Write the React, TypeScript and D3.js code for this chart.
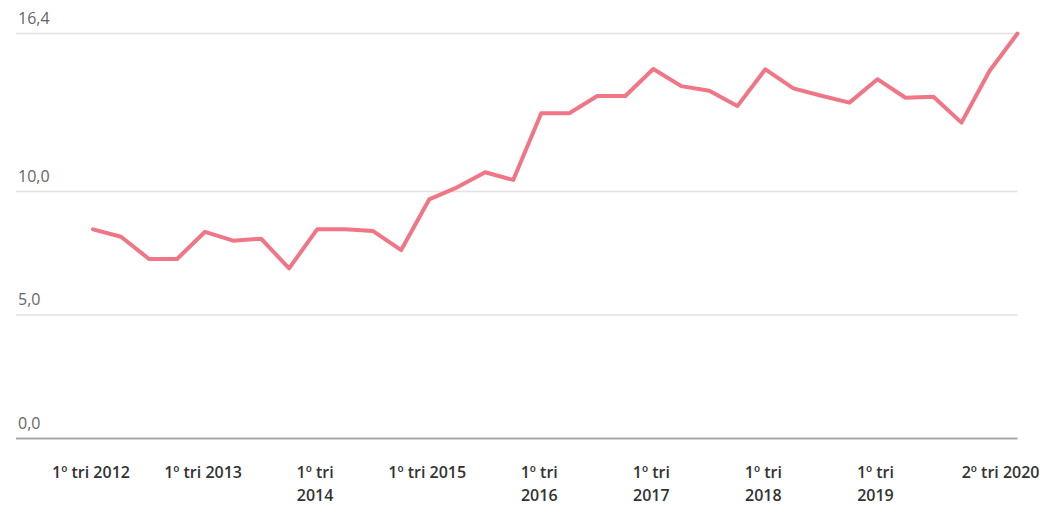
import React from "react";
import * as d3 from "d3";

const quarters: string[] = [
  "1º tri 2012", "2º tri 2012", "3º tri 2012", "4º tri 2012",
  "1º tri 2013", "2º tri 2013", "3º tri 2013", "4º tri 2013",
  "1º tri 2014", "2º tri 2014", "3º tri 2014", "4º tri 2014",
  "1º tri 2015", "2º tri 2015", "3º tri 2015", "4º tri 2015",
  "1º tri 2016", "2º tri 2016", "3º tri 2016", "4º tri 2016",
  "1º tri 2017", "2º tri 2017", "3º tri 2017", "4º tri 2017",
  "1º tri 2018", "2º tri 2018", "3º tri 2018", "4º tri 2018",
  "1º tri 2019", "2º tri 2019", "3º tri 2019", "4º tri 2019",
  "1º tri 2020", "2º tri 2020",
];

const values: number[] = [
  8.47, 8.17, 7.27, 7.27,
  8.37, 8.01, 8.09, 6.89,
  8.47, 8.47, 8.4, 7.63,
  9.68, 10.17, 10.78, 10.47,
  13.17, 13.17, 13.87, 13.87,
  14.96, 14.27, 14.08, 13.46,
  14.95, 14.18, 13.88, 13.6,
  14.55, 13.8, 13.84, 12.79,
  14.88, 16.4,
];

const yTicks: number[] = [0, 5, 10, 16.4];

const xTickQuarters: string[] = [
  "1º tri 2012", "1º tri 2013", "1º tri 2014", "1º tri 2015", "1º tri 2016",
  "1º tri 2017", "1º tri 2018", "1º tri 2019", "2º tri 2020",
];
const xTickLines: string[][] = [
  ["1º tri 2012"], ["1º tri 2013"], ["1º tri", "2014"], ["1º tri 2015"], ["1º tri", "2016"],
  ["1º tri", "2017"], ["1º tri", "2018"], ["1º tri", "2019"], ["2º tri 2020"],
];

const W = 1061;
const H = 506;

export default function App() {
  const x = d3.scaleLinear().domain([0, quarters.length - 1]).range([93, 1017.5]);
  const y = d3.scaleLinear().domain([0, 16.4]).range([438.5, 33.5]);
  const line = d3
    .line<number>()
    .x((_, i) => x(i))
    .y((d) => y(d));
  const fmt = (v: number) => v.toFixed(1).replace(".", ",");
  const font = "'Open Sans', 'Noto Sans', sans-serif";

  return (
    <svg
      width={W}
      height={H}
      style={{ position: "fixed", left: 0, top: 0, background: "#fff" }}
      fontFamily={font}
    >
      {yTicks.map((t) => (
        <g key={t}>
          <line
            x1={16}
            x2={1017.5}
            y1={y(t)}
            y2={y(t)}
            stroke={t === 0 ? "#a8a8a8" : "#e2e2e2"}
            strokeWidth={t === 0 ? 2 : 1.5}
          />
          <text x={18} y={y(t) - 10} fontSize={16} fill="#666">
            {fmt(t)}
          </text>
        </g>
      ))}
      <path
        d={line(values) || ""}
        fill="none"
        stroke="#f07686"
        strokeWidth={4}
        strokeLinejoin="round"
        strokeLinecap="round"
      />
      {xTickQuarters.map((q, k) => {
        const i = quarters.indexOf(q);
        const last = k === xTickQuarters.length - 1;
        const cx = last ? x(i) + 22 : x(i) - 2;
        return (
          <text
            key={q}
            x={cx}
            y={478}
            fontSize={16}
            fontWeight={600}
            fill="#333"
            textAnchor={last ? "end" : "middle"}
          >
            {xTickLines[k].map((ln, j) => (
              <tspan key={j} x={cx} dy={j === 0 ? 0 : 22.5}>
                {ln}
              </tspan>
            ))}
          </text>
        );
      })}
    </svg>
  );
}
